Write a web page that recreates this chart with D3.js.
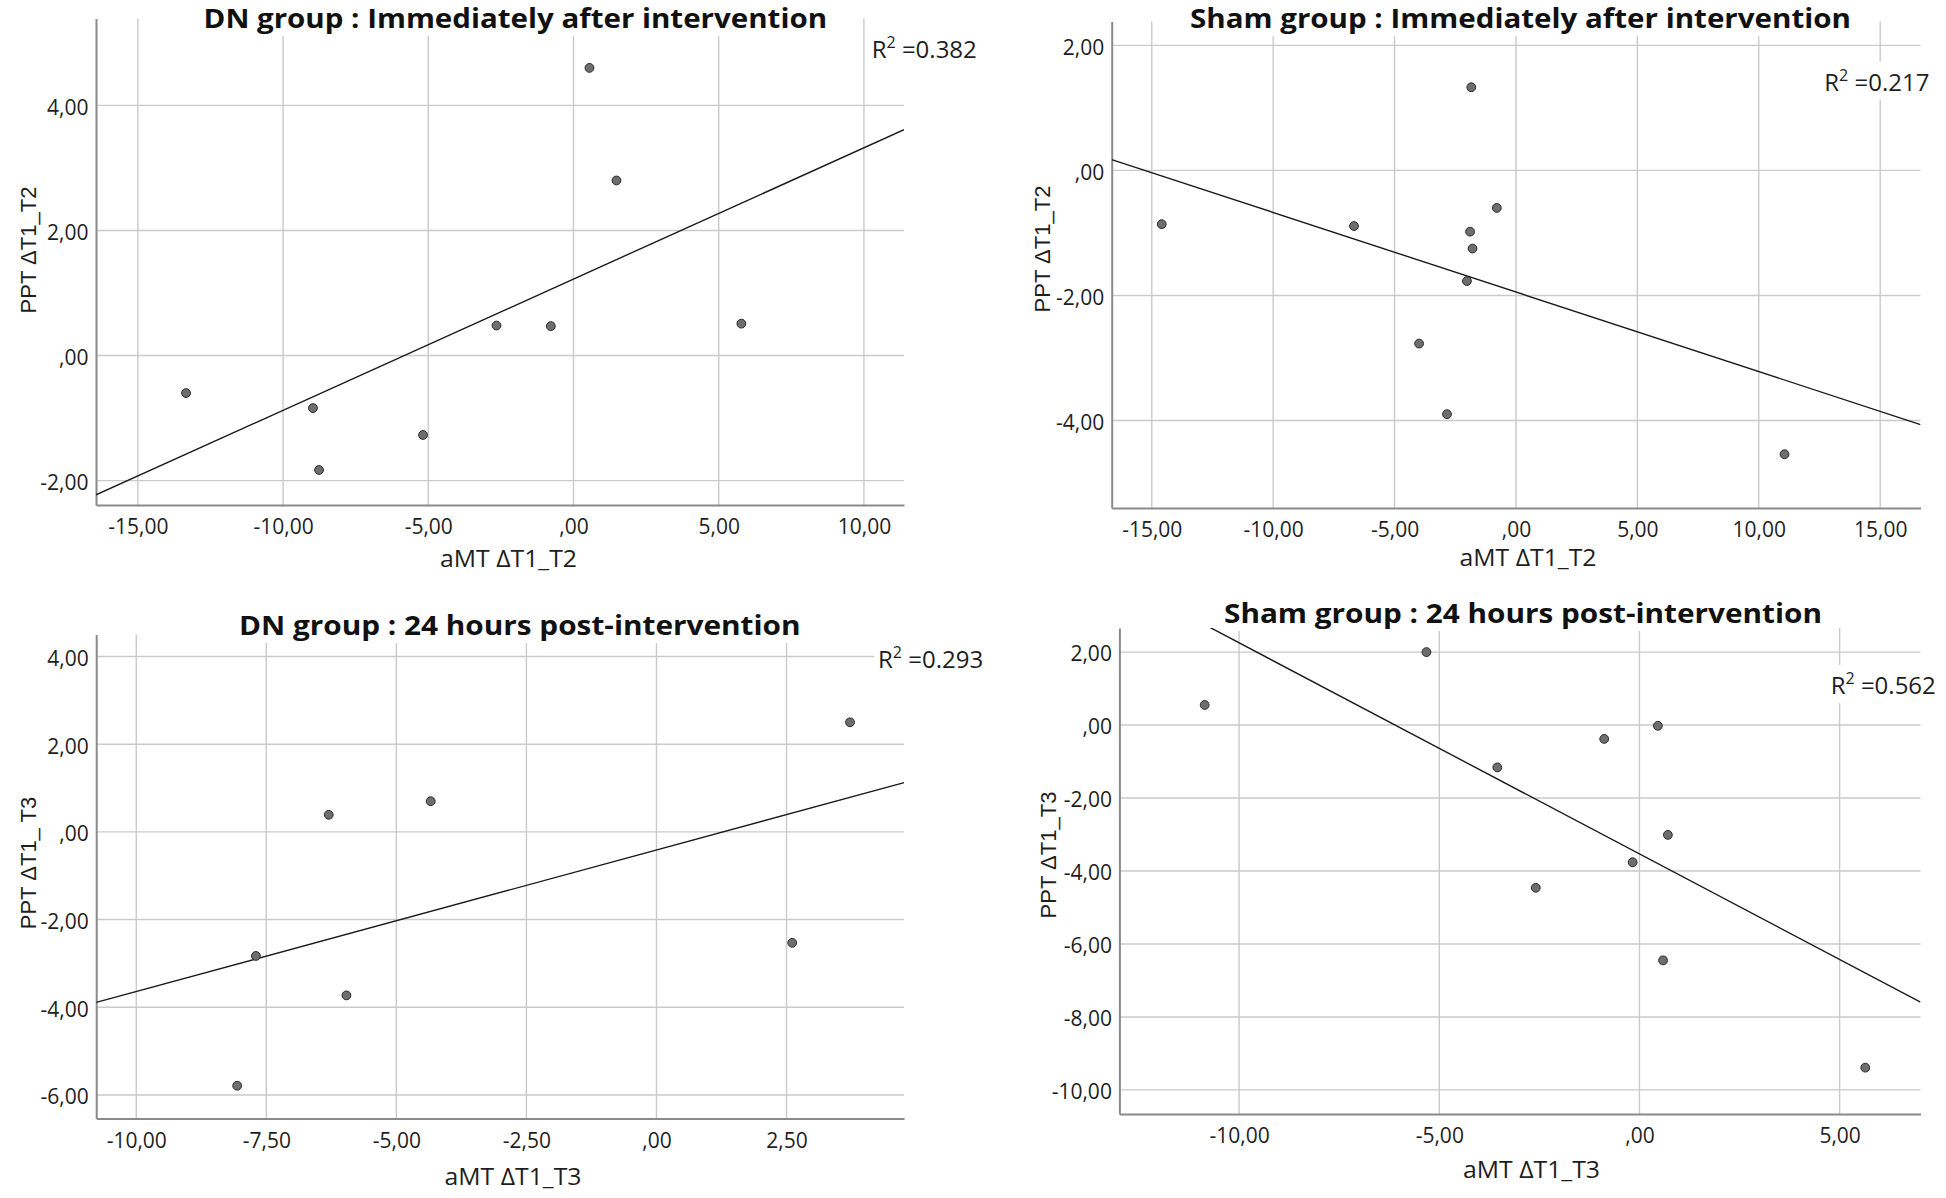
<!DOCTYPE html>
<html>
<head>
<meta charset="utf-8">
<script src="https://cdn.jsdelivr.net/npm/d3@7"></script>
<style>
  html, body { margin: 0; padding: 0; background: #ffffff; }
  svg { display: block; }
  .tick text { font-family: "Open Sans", sans-serif; font-size: 21px; fill: #1e1e1e; }
</style>
</head>
<body>
<svg id="chart" width="1946" height="1198"></svg>
<script>
// ---------------- DATA ----------------
const panelTitles = [
  "DN group : Immediately after intervention",
  "Sham group : Immediately after intervention",
  "DN group : 24 hours post-intervention",
  "Sham group : 24 hours post-intervention"
];
const xAxisTitles = ["aMT ΔT1_T2", "aMT ΔT1_T2", "aMT ΔT1_T3", "aMT ΔT1_T3"];
const yAxisTitles = ["PPT ΔT1_T2", "PPT ΔT1_T2", "PPT ΔT1_ T3", "PPT ΔT1_T3"];
const rSquaredLabels = ["0.382", "0.217", "0.293", "0.562"];

// DN group, immediately after (T1-T2)
const dnT2_aMT = [-13.34, -8.97, -8.76, -5.18, -2.65, -0.78, 0.55, 1.48, 5.78];
const dnT2_PPT = [-0.60, -0.84, -1.83, -1.27, 0.48, 0.47, 4.60, 2.80, 0.51];
// Sham group, immediately after (T1-T2)
const shamT2_aMT = [-14.59, -6.67, -3.99, -2.84, -2.02, -1.89, -1.79, -1.84, -0.79, 11.06];
const shamT2_PPT = [-0.86, -0.89, -2.77, -3.90, -1.77, -0.98, -1.25, 1.33, -0.60, -4.54];
// DN group, 24 h post (T1-T3)
const dnT3_aMT = [-8.06, -7.70, -6.30, -5.96, -4.34, 2.61, 3.72];
const dnT3_PPT = [-5.79, -2.83, 0.39, -3.73, 0.70, -2.53, 2.50];
// Sham group, 24 h post (T1-T3)
const shamT3_aMT = [-10.86, -5.32, -3.55, -2.59, -0.88, -0.17, 0.46, 0.71, 0.59, 5.64];
const shamT3_PPT = [0.55, 2.00, -1.16, -4.46, -0.38, -3.76, -0.02, -3.01, -6.45, -9.39];

// tick values
const xTicks1 = [-15, -10, -5, 0, 5, 10];
const yTicks1 = [-2, 0, 2, 4];
const xTicks2 = [-15, -10, -5, 0, 5, 10, 15];
const yTicks2 = [-4, -2, 0, 2];
const xTicks3 = [-10, -7.5, -5, -2.5, 0, 2.5];
const yTicks3 = [-6, -4, -2, 0, 2, 4];
const xTicks4 = [-10, -5, 0, 5];
const yTicks4 = [-10, -8, -6, -4, -2, 0, 2];

// axis extents
const xDomains = [[-16.44, 11.38], [-16.65, 16.66], [-10.77, 4.76], [-12.99, 7.02]];
const yDomains = [[-2.39, 5.39], [-5.40, 2.38], [-6.54, 4.50], [-10.66, 2.66]];

// ---------------- LAYOUT ----------------
const layout = [
  {left: 96,    right: 904,   top: 18.5,  bottom: 505,
   title: {cx: 515.3, y: 28,  w: 623.5}, xt: {cx: 508.5, y: 567}, yt: {x: 36, cy: 250},  r2: {x: 871.7, y: 58.3}},
  {left: 1111.7, right: 1920.5, top: 21.6, bottom: 508,
   title: {cx: 1520.5, y: 28.2, w: 661}, xt: {cx: 1528, y: 566}, yt: {x: 1050, cy: 249}, r2: {x: 1824.3, y: 90.6}},
  {left: 96.2,  right: 904.1, top: 634.6, bottom: 1118.6,
   title: {cx: 519.8, y: 635, w: 561.5}, xt: {cx: 513, y: 1185}, yt: {x: 36, cy: 863},  r2: {x: 878, y: 668}},
  {left: 1119.4, right: 1920.5, top: 628, bottom: 1114,
   title: {cx: 1523, y: 623, w: 598}, xt: {cx: 1531.5, y: 1177.5}, yt: {x: 1056, cy: 855}, r2: {x: 1830.7, y: 694}}
];

const panels = [
  {xs: dnT2_aMT, ys: dnT2_PPT, xt: xTicks1, yt: yTicks1},
  {xs: shamT2_aMT, ys: shamT2_PPT, xt: xTicks2, yt: yTicks2},
  {xs: dnT3_aMT, ys: dnT3_PPT, xt: xTicks3, yt: yTicks3},
  {xs: shamT3_aMT, ys: shamT3_PPT, xt: xTicks4, yt: yTicks4}
];

// SPSS-like comma decimal format: ",00", "-15,00", "2,50"
function fmt(v) {
  if (Math.abs(v) < 1e-9) return ",00";
  const s = Math.abs(v).toFixed(2).replace(".", ",");
  return (v < 0 ? "-" : "") + s;
}

function linreg(xs, ys) {
  const mx = d3.mean(xs), my = d3.mean(ys);
  let sxy = 0, sxx = 0;
  for (let i = 0; i < xs.length; i++) {
    sxy += (xs[i] - mx) * (ys[i] - my);
    sxx += (xs[i] - mx) * (xs[i] - mx);
  }
  const b = sxy / sxx;
  return {b: b, a: my - b * mx};
}

const svg = d3.select("#chart");
const defs = svg.append("defs");

panels.forEach((p, i) => {
  const L = layout[i];
  const x = d3.scaleLinear().domain(xDomains[i]).range([L.left, L.right]);
  const y = d3.scaleLinear().domain(yDomains[i]).range([L.bottom, L.top]);
  const g = svg.append("g");

  defs.append("clipPath").attr("id", "clip" + i)
    .append("rect").attr("x", L.left).attr("y", L.top)
    .attr("width", L.right - L.left).attr("height", L.bottom - L.top);

  // gridlines
  g.append("g").selectAll("line").data(p.xt).join("line")
    .attr("x1", d => x(d)).attr("x2", d => x(d))
    .attr("y1", L.top).attr("y2", L.bottom)
    .attr("stroke", "#cacaca").attr("stroke-width", 1.4);
  g.append("g").selectAll("line").data(p.yt).join("line")
    .attr("x1", L.left).attr("x2", L.right)
    .attr("y1", d => y(d)).attr("y2", d => y(d))
    .attr("stroke", "#cacaca").attr("stroke-width", 1.4);

  // axes
  const xAxis = d3.axisBottom(x).tickValues(p.xt).tickFormat(fmt).tickSize(0).tickPadding(14);
  const yAxis = d3.axisLeft(y).tickValues(p.yt).tickFormat(fmt).tickSize(0).tickPadding(7.5);
  const gx = g.append("g").attr("transform", `translate(0,${L.bottom})`).call(xAxis);
  const gy = g.append("g").attr("transform", `translate(${L.left},0)`).call(yAxis);
  [gx, gy].forEach(a => {
    a.select(".domain").attr("stroke", "#8a8a8a").attr("stroke-width", 2);
    a.selectAll(".tick text").attr("font-family", "Open Sans, sans-serif").attr("font-size", 21).attr("fill", "#1e1e1e");
  });
  gy.selectAll(".tick text").attr("dy", "0.42em");

  // regression line
  const r = linreg(p.xs, p.ys);
  const xd = xDomains[i];
  g.append("line")
    .attr("clip-path", `url(#clip${i})`)
    .attr("x1", x(xd[0])).attr("y1", y(r.a + r.b * xd[0]))
    .attr("x2", x(xd[1])).attr("y2", y(r.a + r.b * xd[1]))
    .attr("stroke", "#1a1a1a").attr("stroke-width", 1.4);

  // points
  g.append("g").selectAll("circle").data(p.xs.map((v, k) => [v, p.ys[k]])).join("circle")
    .attr("cx", d => x(d[0])).attr("cy", d => y(d[1])).attr("r", 4.4)
    .attr("fill", "#6e6e6e").attr("stroke", "#2a2a2a").attr("stroke-width", 1);

  // title with white background
  const tg = g.append("g");
  const tbg = tg.append("rect").attr("fill", "#ffffff");
  const tt = tg.append("text")
    .attr("x", L.title.cx).attr("y", L.title.y)
    .attr("text-anchor", "middle")
    .attr("font-family", "Open Sans, sans-serif").attr("font-weight", "bold")
    .attr("font-size", 26).attr("fill", "#111111")
    .attr("textLength", L.title.w).attr("lengthAdjust", "spacingAndGlyphs")
    .text(panelTitles[i]);
  const tb = tt.node().getBBox();
  tbg.attr("x", tb.x - 4).attr("y", Math.max(0, tb.y)).attr("width", tb.width + 8).attr("height", tb.height);

  // x axis title
  g.append("text")
    .attr("x", L.xt.cx).attr("y", L.xt.y).attr("text-anchor", "middle")
    .attr("font-family", "Open Sans, sans-serif").attr("font-size", 23).attr("fill", "#1e1e1e")
    .attr("textLength", 137).attr("lengthAdjust", "spacingAndGlyphs")
    .text(xAxisTitles[i]);

  // y axis title
  g.append("text")
    .attr("transform", `translate(${L.yt.x},${L.yt.cy}) rotate(-90)`)
    .attr("text-anchor", "middle")
    .attr("font-family", "Liberation Sans, Arial, sans-serif").attr("font-size", 22).attr("fill", "#1e1e1e")
    .text(yAxisTitles[i]);

  // R² label with white background
  const rg = g.append("g");
  const rbg = rg.append("rect").attr("fill", "#ffffff");
  const rt = rg.append("text")
    .attr("x", L.r2.x).attr("y", L.r2.y)
    .attr("font-family", "Open Sans, sans-serif").attr("font-size", 24).attr("fill", "#1e1e1e");
  rt.append("tspan").text("R");
  rt.append("tspan").attr("font-size", 16).attr("dy", -10).text("2");
  rt.append("tspan").attr("font-size", 24).attr("dy", 10).text(" =" + rSquaredLabels[i]);
  const rb = rt.node().getBBox();
  rbg.attr("x", rb.x - 4).attr("y", rb.y - 2).attr("width", rb.width + 8).attr("height", rb.height + 4);
});
</script>
</body>
</html>
